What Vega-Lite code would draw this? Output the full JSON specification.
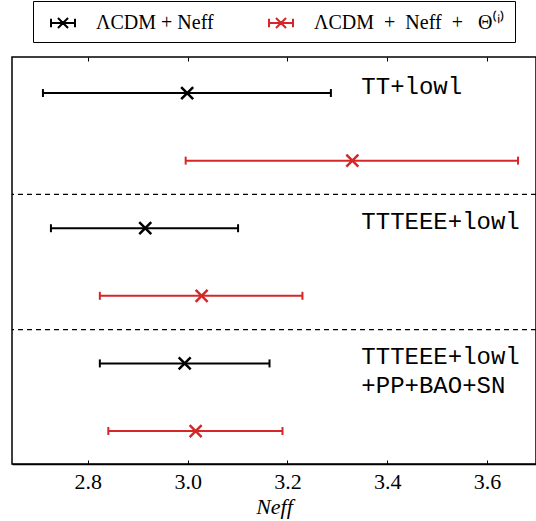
{
  "$schema": "https://vega.github.io/schema/vega-lite/v6.json",
  "autosize": "none",
  "padding": {"left": 12, "top": 57, "right": 0, "bottom": 57},
  "width": 524,
  "height": 407,
  "background": "white",
  "config": {
    "view": {"stroke": "black", "strokeWidth": 1.5},
    "axis": {"labelFont": "Liberation Serif", "titleFont": "Liberation Serif", "labelColor": "black", "titleColor": "black", "grid": false}
  },
  "datasets": {
    "bars": [
      {"row": 1, "model": "ΛCDM + Neff", "lo": 2.710, "mid": 2.999, "hi": 3.287},
      {"row": 2, "model": "ΛCDM\u00a0\u00a0+\u00a0\u00a0Neff\u00a0\u00a0+\u00a0\u00a0\u00a0Θ⁽ⁱ⁾", "lo": 2.996, "mid": 3.330, "hi": 3.662},
      {"row": 3, "model": "ΛCDM + Neff", "lo": 2.726, "mid": 2.915, "hi": 3.101},
      {"row": 4, "model": "ΛCDM\u00a0\u00a0+\u00a0\u00a0Neff\u00a0\u00a0+\u00a0\u00a0\u00a0Θ⁽ⁱ⁾", "lo": 2.824, "mid": 3.028, "hi": 3.230},
      {"row": 5, "model": "ΛCDM + Neff", "lo": 2.824, "mid": 2.994, "hi": 3.164},
      {"row": 6, "model": "ΛCDM\u00a0\u00a0+\u00a0\u00a0Neff\u00a0\u00a0+\u00a0\u00a0\u00a0Θ⁽ⁱ⁾", "lo": 2.841, "mid": 3.016, "hi": 3.190}
    ],
    "seps": [{"sep": 2.5}, {"sep": 4.5}],
    "labels": [
      {"row": 1, "label": ["TT+lowl"]},
      {"row": 3, "label": ["TTTEEE+lowl"]},
      {"row": 5, "label": ["TTTEEE+lowl", "+PP+BAO+SN"]}
    ]
  },
  "resolve": {"axis": {"x": "independent"}},
  "layer": [
    {
      "data": {"name": "seps"},
      "mark": {"type": "rule", "color": "black", "strokeWidth": 1.2, "strokeDash": [5, 4]},
      "encoding": {
        "y": {"field": "sep", "type": "quantitative", "scale": {"domain": [0.467, 6.488], "reverse": true, "zero": false, "nice": false}, "axis": null}
      }
    },
    {
      "data": {"name": "bars"},
      "mark": {"type": "rule", "strokeWidth": 2},
      "encoding": {
        "x": {"field": "lo", "type": "quantitative", "scale": {"domain": [2.648, 3.698], "nice": false, "zero": false},
              "axis": {"orient": "bottom", "values": [2.8, 3.0, 3.2, 3.4, 3.6], "format": ".1f", "tickSize": -4, "tickColor": "black", "tickWidth": 1, "domainColor": "black", "domainWidth": 1.5, "labelFont": "Liberation Serif", "labelFontSize": 22, "labelPadding": 11, "title": "Neff", "titleFont": "Liberation Serif", "titleFontSize": 22, "titleFontWeight": "normal", "titleFontStyle": "italic", "titlePadding": 4}},
        "x2": {"field": "hi"},
        "y": {"field": "row", "type": "quantitative", "scale": {"domain": [0.467, 6.488], "reverse": true, "zero": false, "nice": false}, "axis": null},
        "color": {"field": "model", "type": "nominal",
                  "scale": {"domain": ["ΛCDM + Neff", "ΛCDM\u00a0\u00a0+\u00a0\u00a0Neff\u00a0\u00a0+\u00a0\u00a0\u00a0Θ⁽ⁱ⁾"], "range": ["#000000", "#d62728"]},
                  "legend": {"orient": "none", "legendX": 21, "legendY": -56, "direction": "horizontal", "title": null,
                             "strokeColor": "black", "fillColor": "white", "padding": 9, "cornerRadius": 0,
                             "symbolType": "M-1,0H1M-1,-0.35V0.35M1,-0.35V0.35M-0.42,-0.42L0.42,0.42M-0.42,0.42L0.42,-0.42",
                             "symbolSize": 576, "symbolStrokeWidth": 2, "symbolFillColor": "transparent", "symbolOffset": 8,
                             "labelFont": "Liberation Serif", "labelFontSize": 20, "labelLimit": 400, "labelColor": "black", "labelOffset": 20, "columnPadding": 46}}
      }
    },
    {
      "data": {"name": "bars"},
      "mark": {"type": "point", "filled": false, "shape": "M0,-1L0,1", "size": 64, "strokeWidth": 2, "opacity": 1},
      "encoding": {
        "x": {"field": "lo", "type": "quantitative", "axis": {"orient": "top", "values": [2.8, 3.0, 3.2, 3.4, 3.6], "labels": false, "domain": false, "tickSize": -4, "tickColor": "black", "title": null}},
        "y": {"field": "row", "type": "quantitative"},
        "color": {"field": "model", "type": "nominal"}
      }
    },
    {
      "data": {"name": "bars"},
      "mark": {"type": "point", "filled": false, "shape": "M0,-1L0,1", "size": 64, "strokeWidth": 2, "opacity": 1},
      "encoding": {
        "x": {"field": "hi", "type": "quantitative", "axis": null},
        "y": {"field": "row", "type": "quantitative"},
        "color": {"field": "model", "type": "nominal"}
      }
    },
    {
      "data": {"name": "bars"},
      "mark": {"type": "point", "filled": false, "shape": "M-1,-1L1,1M-1,1L1,-1", "size": 144, "strokeWidth": 2.5, "opacity": 1},
      "encoding": {
        "x": {"field": "mid", "type": "quantitative", "axis": null},
        "y": {"field": "row", "type": "quantitative"},
        "color": {"field": "model", "type": "nominal"}
      }
    },
    {
      "data": {"name": "labels"},
      "mark": {"type": "text", "align": "left", "baseline": "alphabetic", "font": "Liberation Mono", "fontSize": 24, "lineHeight": 29, "color": "black", "dy": 1},
      "encoding": {
        "x": {"datum": 3.348, "type": "quantitative", "axis": null},
        "y": {"field": "row", "type": "quantitative"},
        "text": {"field": "label"}
      }
    }
  ]
}
